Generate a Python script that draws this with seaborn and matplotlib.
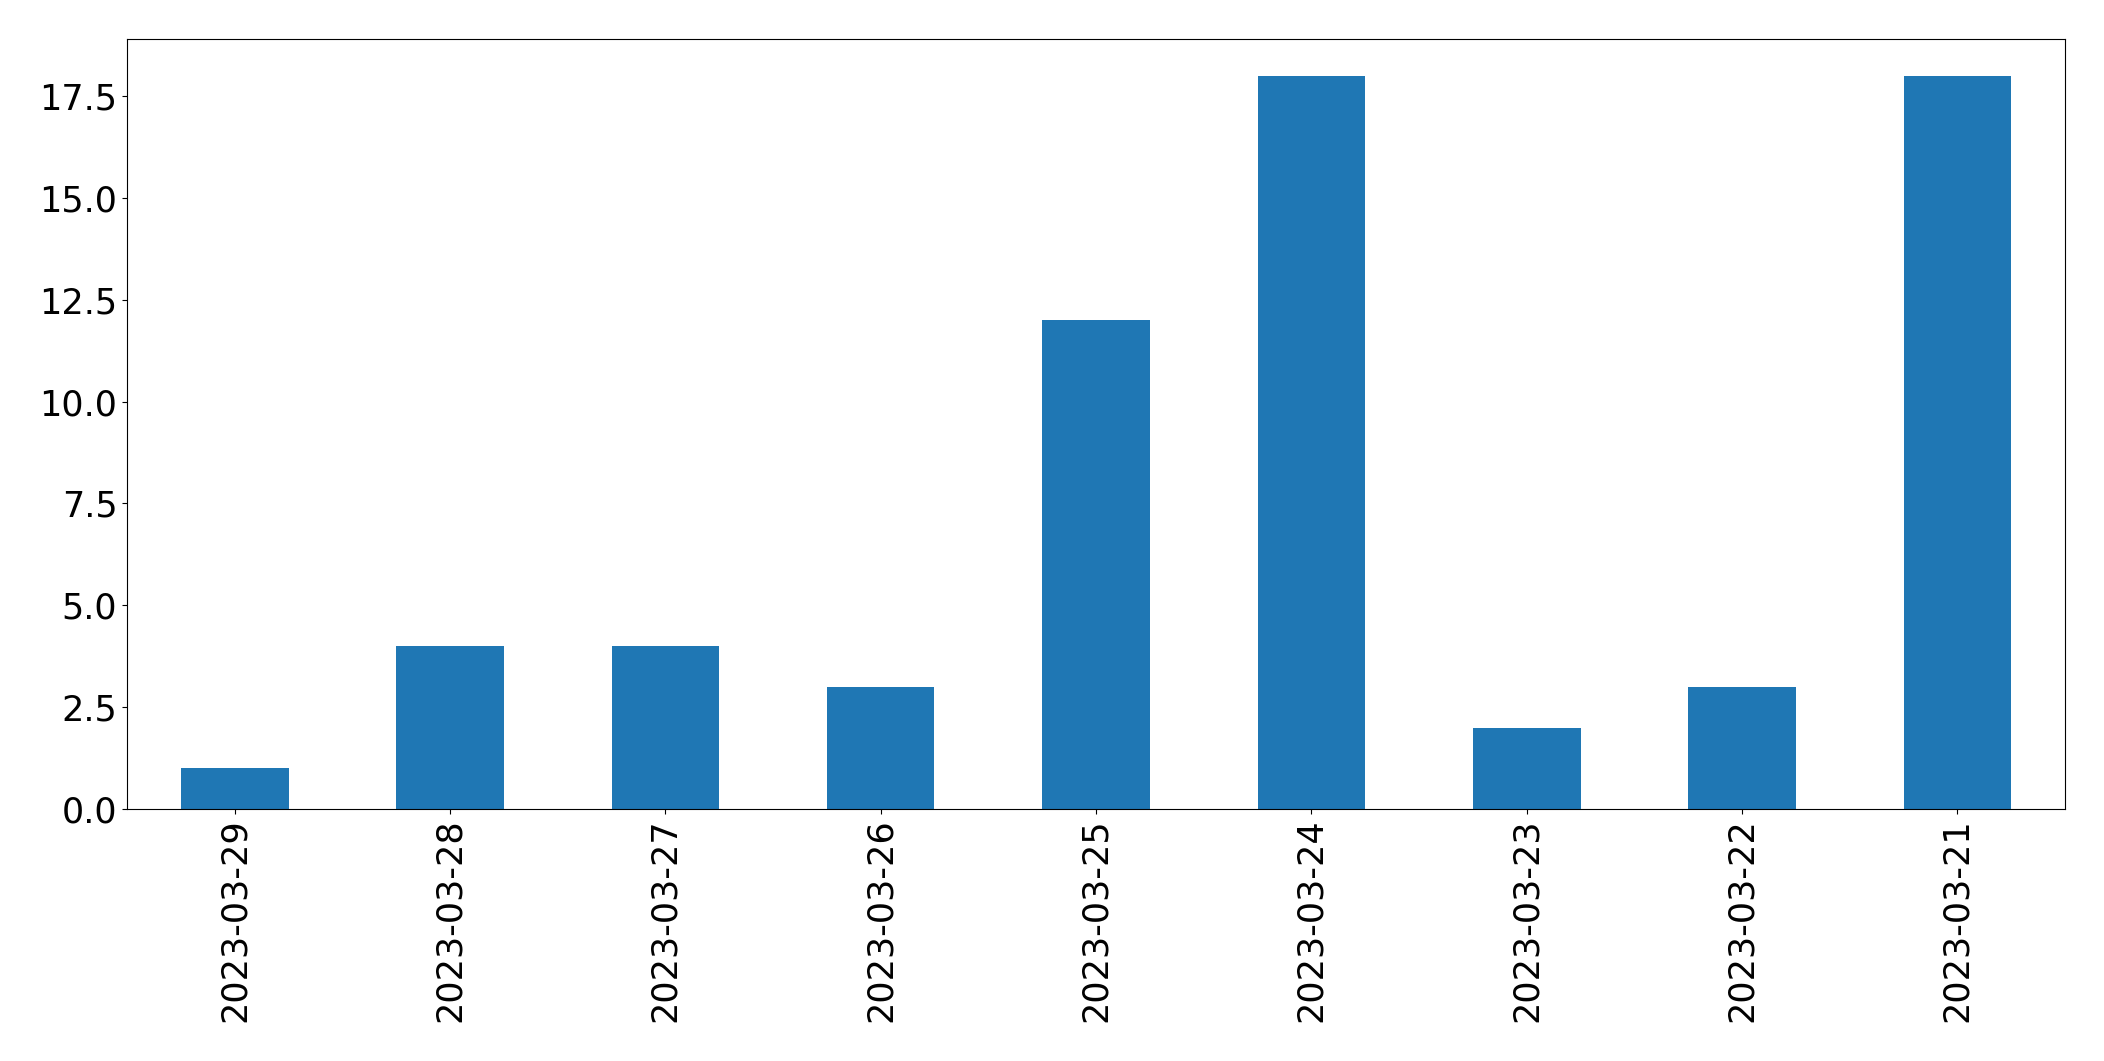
import pandas as pd
import matplotlib
matplotlib.use("Agg")
import matplotlib.pyplot as plt
import seaborn as sns

dates = ["2023-03-29", "2023-03-28", "2023-03-27", "2023-03-26", "2023-03-25",
         "2023-03-24", "2023-03-23", "2023-03-22", "2023-03-21"]
counts = [1, 4, 4, 3, 12, 18, 2, 3, 18]

df = pd.DataFrame({"date": dates, "count": counts})

plt.rcParams['font.family'] = ['DejaVu Sans']
fig = plt.figure(figsize=(21.04, 10.61), dpi=100)
ax = fig.add_axes([127 / 2104, 1 - 809 / 1061, (2065 - 127) / 2104, (809 - 39) / 1061])

sns.barplot(data=df, x="date", y="count", order=dates, color="#1f77b4",
            saturation=1, width=0.5, linewidth=0, ax=ax)

ax.set_ylim(0, max(counts) * 1.05)
ax.set_xlim(-0.5, len(dates) - 0.5)
ax.set_xlabel("")
ax.set_ylabel("")
ax.tick_params(axis="both", labelsize=25.2)
ax.tick_params(axis="x", rotation=90)
ax.yaxis.set_major_formatter(matplotlib.ticker.FormatStrFormatter("%.1f"))

fig.savefig("out.png", dpi=100)
